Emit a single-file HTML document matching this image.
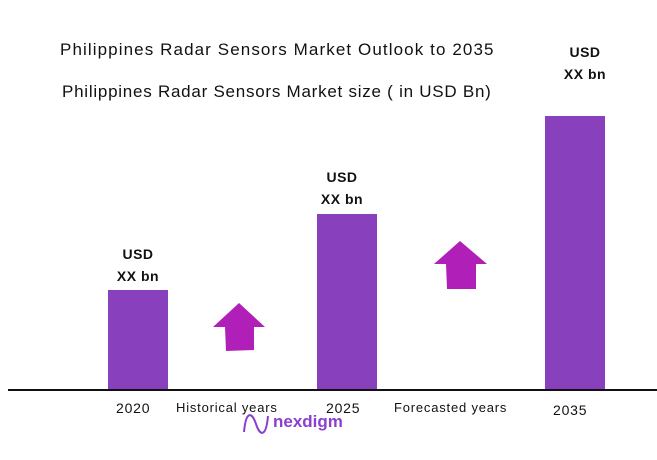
<!DOCTYPE html>
<html><head><style>
body{margin:0;width:657px;height:460px;background:#fff;position:relative;overflow:hidden;font-family:"Liberation Sans",sans-serif}
.t{position:absolute;white-space:nowrap;color:#111}
.bar{position:absolute;background:#8940BC}
.b{font-weight:bold;font-size:14px;text-align:center;width:80px;line-height:22px;letter-spacing:0.5px}
.lbl{font-size:13px;letter-spacing:0.8px}
</style></head><body>
<div class="t" style="left:60px;top:40px;font-size:17px;letter-spacing:1.1px">Philippines Radar Sensors Market Outlook to 2035</div>
<div class="t" style="left:62px;top:82px;font-size:17px;letter-spacing:0.75px">Philippines Radar Sensors Market size ( in USD Bn)</div>
<div class="bar" style="left:108px;top:290px;width:60px;height:100px"></div>
<div class="bar" style="left:317px;top:214px;width:60px;height:176px"></div>
<div class="bar" style="left:545px;top:116px;width:60px;height:274px"></div>
<div class="t b" style="left:98px;top:243px">USD<br>XX bn</div>
<div class="t b" style="left:302px;top:166px">USD<br>XX bn</div>
<div class="t b" style="left:545px;top:41px">USD<br>XX bn</div>
<div style="position:absolute;left:8px;top:389px;width:650px;height:2px;background:#111"></div>
<svg style="position:absolute;left:0;top:0" width="657" height="460">
<polygon points="239,303 265,327 254,327 254,350 226,351 225,327 213,327" fill="#B020B8"/>
<polygon points="460,241 487,264 476,264 476,289 447,289 446,264 434,264" fill="#B020B8"/>
<path d="M244,432 C246,410 252,412 256,424 C260,436 266,438 268,416" stroke="#8a3fd0" stroke-width="2" fill="none"/>
</svg>
<div class="t lbl" style="left:116px;top:400px;font-size:14px">2020</div>
<div class="t lbl" style="left:176px;top:400px">Historical years</div>
<div class="t lbl" style="left:326px;top:400px;font-size:14px">2025</div>
<div class="t lbl" style="left:394px;top:400px">Forecasted years</div>
<div class="t lbl" style="left:553px;top:402px;font-size:14px">2035</div>
<div class="t" style="left:273px;top:412px;font-size:17px;font-weight:bold;color:#8a3fd0">nexdigm</div>
</body></html>
